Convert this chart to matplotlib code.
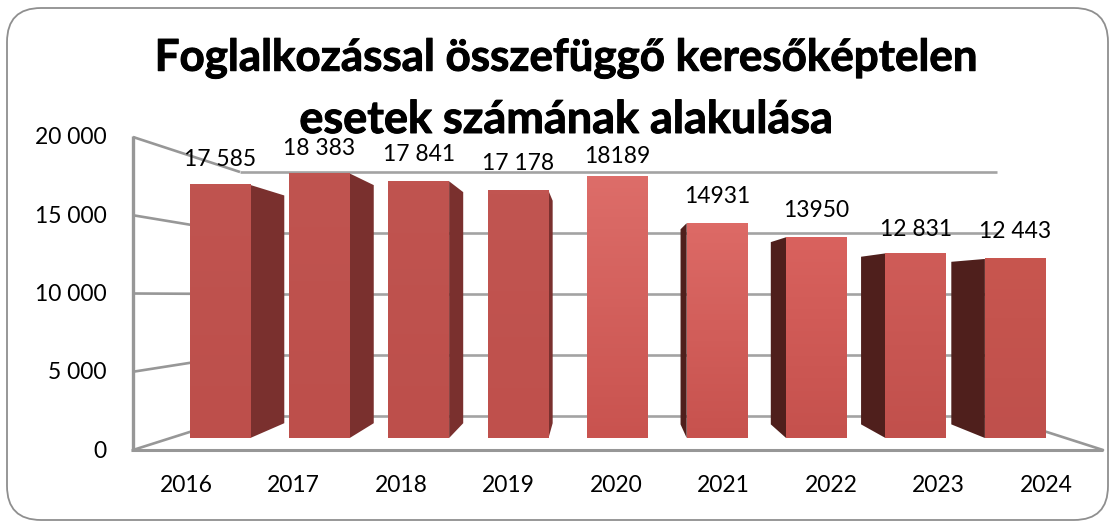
import numpy as np
import matplotlib
matplotlib.use("Agg")
from matplotlib import pyplot as plt
from matplotlib import patheffects
from matplotlib.patches import FancyBboxPatch, Polygon
from matplotlib.colors import to_rgb

years = ["2016", "2017", "2018", "2019", "2020", "2021", "2022", "2023", "2024"]
cases = [17585, 18383, 17841, 17178, 18189, 14931, 13950, 12831, 12443]
case_labels = ["17 585", "18 383", "17 841", "17 178", "18189", "14931", "13950", "12 831", "12 443"]
y_ticks = [0, 5000, 10000, 15000, 20000]
y_tick_labels = ["0", "5 000", "10 000", "15 000", "20 000"]

plt.rcParams['font.family'] = ['Lato', 'Open Sans', 'DejaVu Sans']

W, H = 1115, 522
GREY = "#979797"
fig = plt.figure(figsize=(W / 100, H / 100), dpi=100)

# pixel axes for frame, walls and text
bg = fig.add_axes([0, 0, 1, 1])
bg.set_xlim(0, W)
bg.set_ylim(H, 0)
bg.axis("off")

frame = FancyBboxPatch((7, 8), 1101, 512, boxstyle="round,pad=0,rounding_size=34",
                       fc="white", ec="#8f8f8f", lw=1.3)
bg.add_patch(frame)

# 3d walls
for v in y_ticks:
    yf = 450 - v * 0.01565
    yb = 416 - v * 0.0122
    bg.plot([133, 240], [yf, yb], color=GREY, lw=1.9, solid_capstyle="butt")
    bg.plot([240, 997], [yb, yb], color="#a3a3a3", lw=1.9, solid_capstyle="butt")
bg.plot([133, 133], [136, 451], color=GREY, lw=2.4, solid_capstyle="butt")
bg.plot([131, 1103], [450, 450], color=GREY, lw=2.2, solid_capstyle="butt")
bg.plot([997, 1103], [416, 450], color=GREY, lw=1.9, solid_capstyle="round")

for v, lab in zip(y_ticks, y_tick_labels):
    bg.text(107, 450 - v * 0.01565 + 1, lab, ha="right", va="center", fontsize=16.5, color="black")

year_px = 186 + 107.5 * np.arange(len(years))
for x, lab in zip(year_px, years):
    bg.text(x, 486, lab, ha="center", va="center", fontsize=16.5, color="black")

# bars: x in category index, y in cases
PX_PER_CASE = 0.01439
STEP = 99.4
X0 = 220.0
ax = fig.add_axes([0, 0, 1, 1])
ax.patch.set_alpha(0)
ax.axis("off")

x = np.arange(len(years))
width = 0.61
vy = (438 - 290) / PX_PER_CASE
label_lift = [25, 25, 27, 27, 20, 27, 27, 24, 27]

front_top = ["#c05450", "#c05450", "#c05450", "#c15551", "#dd6d69", "#dd6a66", "#d9625e", "#cf5c58", "#c8564f"]
front_bot = ["#bd4f4b", "#bd4f4b", "#bd4f4b", "#bf504c", "#c9534f", "#c7524e", "#c5514d", "#c1504c", "#bf504c"]
side_col = ["#7a302e", "#7a302e", "#7a302e", "#7a302e", "#7a302e", "#4f1f1c", "#4f1f1c", "#4f1f1c", "#4f1f1c"]

bars = ax.bar(x, cases, width=width, color=front_bot, zorder=3)
for i, (b, v) in enumerate(zip(bars, cases)):
    x0, x1 = b.get_x(), b.get_x() + b.get_width()
    if i < 4:
        edge, vx, k = x1, (590 - X0) / STEP, 0.1
    else:
        edge, vx, k = x0, (620 - X0) / STEP, 0.092
    ex = edge + k * (vx - edge)
    tv = v + k * (vy - v)
    bv = k * vy
    if i != 4:
        ax.add_patch(Polygon([(edge, 0), (edge, v), (ex, tv), (ex, bv)], fc=side_col[i], ec="none", zorder=2))
    t, c = np.array(to_rgb(front_top[i])), np.array(to_rgb(front_bot[i]))
    grad = np.linspace(t, c, 64)[:, None, :]
    ax.imshow(grad, extent=(x0, x1, 0, v), aspect="auto", zorder=3.5, origin="upper")
    ax.text(x[i], v + label_lift[i] / PX_PER_CASE, case_labels[i], ha="center", va="center", fontsize=16.5,
            color="black", zorder=5)

ax.set_xlim((0 - X0) / STEP, (W - X0) / STEP)
ax.set_ylim((438 - H) / PX_PER_CASE, 438 / PX_PER_CASE)

# title on top of everything
heavy = [patheffects.withStroke(linewidth=0.7, foreground="black")]
fig.text(566 / W, 1 - 58 / H, "Foglalkozással összefüggő keresőképtelen", ha="center", va="center",
         fontsize=31.6, fontweight="bold", color="black", zorder=10, path_effects=heavy)
fig.text(566 / W, 1 - 120 / H, "esetek számának alakulása", ha="center", va="center",
         fontsize=32.4, fontweight="bold", color="black", zorder=10, path_effects=heavy)

fig.savefig("out.png", dpi=100)
